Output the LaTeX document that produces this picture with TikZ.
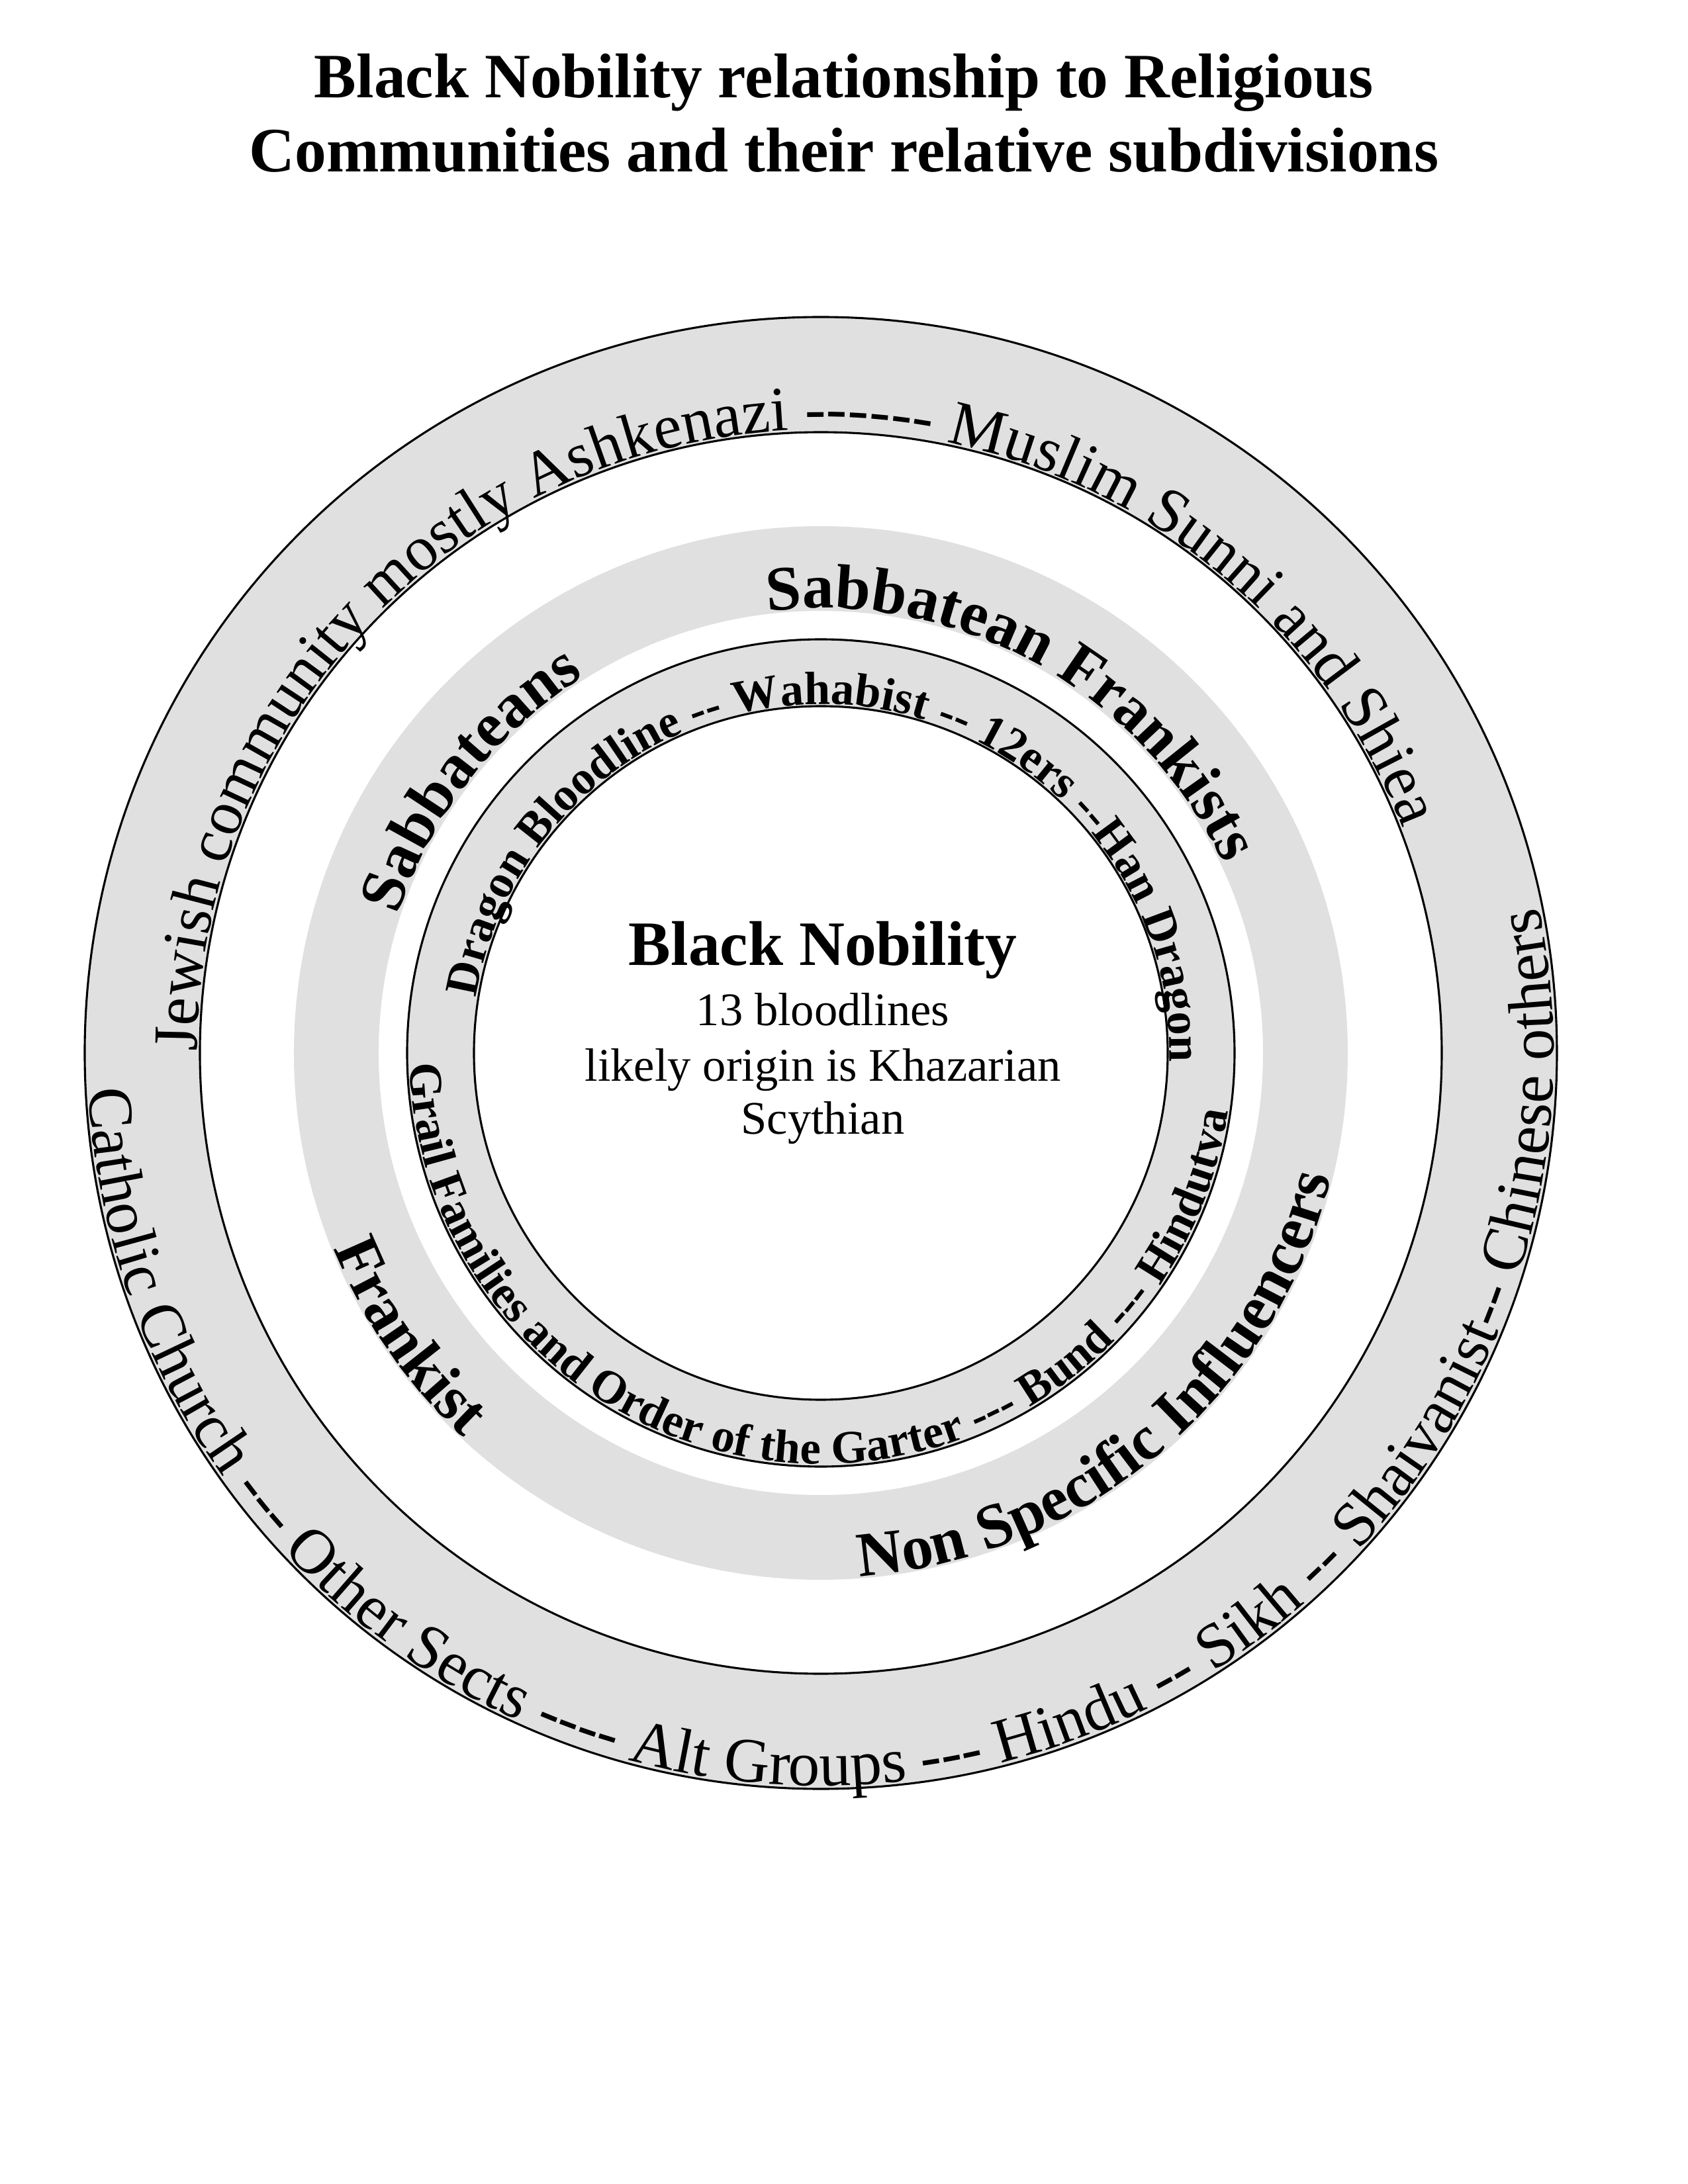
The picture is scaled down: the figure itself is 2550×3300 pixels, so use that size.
\documentclass[tikz,border=0pt]{standalone}
\usepackage{fontspec}
\setmainfont{Liberation Serif}
\usetikzlibrary{decorations.text}

\definecolor{ringgray}{RGB}{224,224,224}
\newcommand{\outerfont}{\fontsize{23}{27}\selectfont}
\newcommand{\middlefont}{\bfseries\fontsize{23}{27}\selectfont}
\newcommand{\innerfont}{\bfseries\fontsize{17}{20}\selectfont}

\tikzset{
    ringline/.style={line width=0.75pt},
    outertext/.style={decorate, decoration={text along path, text align=center, text={|\outerfont|#1}}},
    middletext/.style={decorate, decoration={text along path, text align=center, text={|\middlefont|#1}}},
    innertext/.style={decorate, decoration={text along path, text align=center, text={|\innerfont|#1}}},
}

\begin{document}
\begin{tikzpicture}[x=0.2409pt, y=0.2409pt]
    \useasboundingbox (-1240,-1709) rectangle (1310,1591);
    \coordinate (hub) at (0,0);

    % title
    \node[anchor=base, font=\bfseries\fontsize{23}{27}\selectfont] (titletop) at (35,1443) {Black Nobility relationship to Religious};
    \node[anchor=base, font=\bfseries\fontsize{23}{27}\selectfont] (titlebot) at (35,1331) {Communities and their relative subdivisions};

    % rings
    \fill[ringgray, even odd rule] (hub) circle[radius=1112] (hub) circle[radius=938];
    \fill[ringgray, even odd rule] (hub) circle[radius=796] (hub) circle[radius=668];
    \fill[ringgray, even odd rule] (hub) circle[radius=625] (hub) circle[radius=524];
    \draw[ringline] (hub) circle[radius=1112];
    \draw[ringline] (hub) circle[radius=938];
    \draw[ringline] (hub) circle[radius=625];
    \draw[ringline] (hub) circle[radius=524];

    % outer ring
    \path[outertext={Jewish community mostly Ashkenazi ------ Muslim Sunni and Shiea}]
        (190.5:942) arc[start angle=190.5, end angle=10.5, radius=942];
    \path[outertext={Catholic Church --- Other Sects ---- Alt Groups --- Hindu -- Sikh -- Shaivanist-- Chinese others}]
        (177:1107) arc[start angle=177, end angle=377.3, radius=1107];

    % middle ring
    \path[middletext={Sabbateans}]
        (170:672) arc[start angle=170, end angle=114, radius=672];
    \path[middletext={Sabbatean Frankists}]
        (105:672) arc[start angle=105, end angle=17, radius=672];
    \path[middletext={Frankist}]
        (195:793) arc[start angle=195, end angle=234, radius=793];
    \path[middletext={Non Specific Influencers}]
        (270:793) arc[start angle=270, end angle=350.5, radius=793];

    % inner ring
    \path[innertext={Dragon Bloodline -- Wahabist -- 12ers --Han Dragon}]
        (179.7:527) arc[start angle=179.7, end angle=-10.3, radius=527];
    \path[innertext={Grail Families and Order of the Garter --- Bund --- Hindutva}]
        (171.7:621) arc[start angle=171.7, end angle=361.7, radius=621];

    % centre
    \node[anchor=base, font=\bfseries\fontsize{23}{27}\selectfont] (bnname) at (3,133) {Black Nobility};
    \node[anchor=base, font=\fontsize{17}{20}\selectfont] (bnline1) at (3,42) {13 bloodlines};
    \node[anchor=base, font=\fontsize{17}{20}\selectfont] (bnline2) at (3,-42) {likely origin is Khazarian};
    \node[anchor=base, font=\fontsize{17}{20}\selectfont] (bnline3) at (3,-122) {Scythian};
\end{tikzpicture}
\end{document}
